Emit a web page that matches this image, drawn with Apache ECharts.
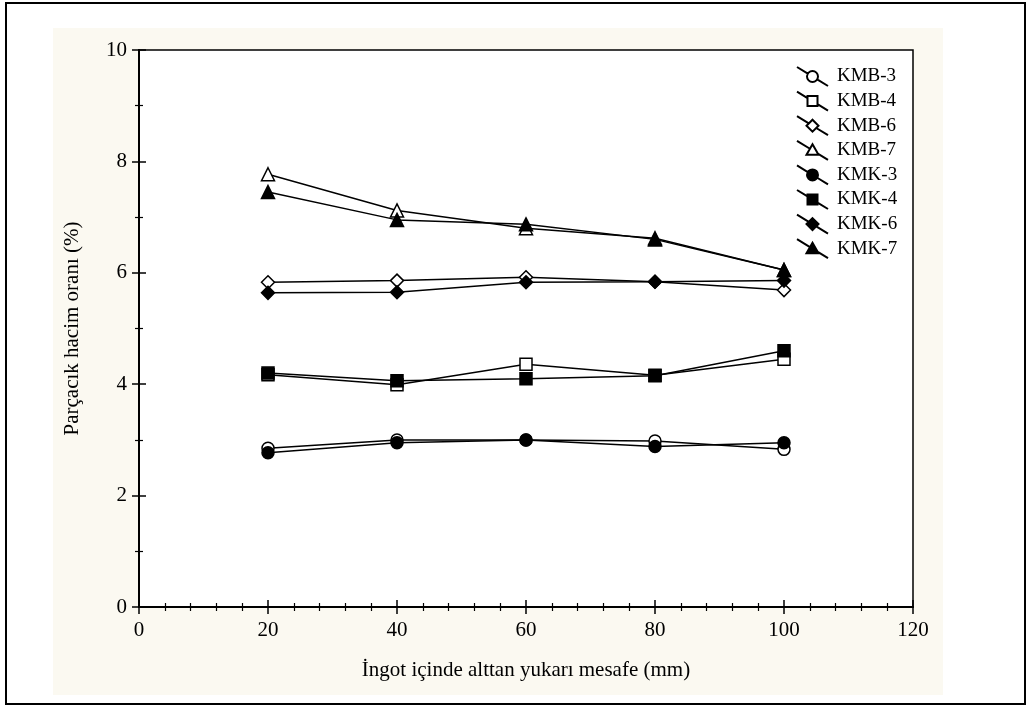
<!DOCTYPE html>
<html>
<head>
<meta charset="utf-8">
<script src="https://cdn.jsdelivr.net/npm/echarts@6/dist/echarts.min.js"></script>
<style>html,body{margin:0;padding:0;background:#fff}#c{width:1032px;height:706px}</style>
</head>
<body>
<div id="c"></div>
<script>
const distances = [20, 40, 60, 80, 100];
const xTicks = [0, 20, 40, 60, 80, 100, 120];
const yTicks = [0, 2, 4, 6, 8, 10];
const seriesNames = ['KMB-3','KMB-4','KMB-6','KMB-7','KMK-3','KMK-4','KMK-6','KMK-7'];
const KMB3 = [2.85, 3.00, 3.00, 2.98, 2.83];
const KMB4 = [4.17, 3.99, 4.36, 4.16, 4.45];
const KMB6 = [5.83, 5.86, 5.92, 5.84, 5.69];
const KMB7 = [7.77, 7.12, 6.80, 6.62, 6.05];
const KMK3 = [2.77, 2.95, 3.00, 2.88, 2.95];
const KMK4 = [4.20, 4.06, 4.10, 4.15, 4.60];
const KMK6 = [5.64, 5.65, 5.83, 5.84, 5.86];
const KMK7 = [7.45, 6.95, 6.87, 6.60, 6.05];
const values = [KMB3, KMB4, KMB6, KMB7, KMK3, KMK4, KMK6, KMK7];

const FONT = '"Liberation Serif", "DejaVu Serif", serif';
const symbols = ['circle','rect','diamond','triangle'];
const legendIcons = [
  'path://M0,0 L10.81,6.63 M20.19,12.37 L31,19 M21,9.5 A5.5,5.5 0 1,1 10,9.5 A5.5,5.5 0 1,1 21,9.5 Z',
  'path://M0,0 L10.5,6.44 M20.5,12.56 L31,19 M10.5,4.5 L20.5,4.5 L20.5,14.5 L10.5,14.5 Z',
  'path://M0,0 L11.78,7.22 M19.22,11.78 L31,19 M15.5,3.5 L21.5,9.5 L15.5,15.5 L9.5,9.5 Z',
  'path://M0,0 L12.96,7.94 M20.78,12.74 L31,19 M15.5,3.5 L21.5,14 L9.5,14 Z'
];
const symSizes = [12, 12, 13, 13];

const series = seriesNames.map((name, i) => {
  const open = i < 4;
  const k = i % 4;
  return {
    name: name,
    type: 'line',
    xAxisIndex: 0, yAxisIndex: 0,
    data: distances.map((d, j) => [d, values[i][j]]),
    symbol: symbols[k],
    symbolSize: symSizes[k],
    showAllSymbol: true,
    lineStyle: { color: '#000', width: 1.5 },
    itemStyle: { color: open ? '#fff' : '#000', borderColor: '#000', borderWidth: 1.5 },
    emphasis: { disabled: true },
    z: open ? 3 : 4
  };
});

const chart = echarts.init(document.getElementById('c'), null, { renderer: 'canvas' });
chart.setOption({
  animation: false,
  backgroundColor: '#ffffff',
  graphic: [
    { type: 'rect', shape: { x: 6, y: 3, width: 1019, height: 701 }, style: { fill: '#fff', stroke: '#000', lineWidth: 2 }, z: -10, silent: true },
    { type: 'rect', shape: { x: 53, y: 28, width: 890, height: 667 }, style: { fill: '#FBF9F1' }, z: -9, silent: true }
  ],
  grid: { left: 139, top: 50, width: 774, height: 557, show: true, backgroundColor: '#fff', borderColor: '#000', borderWidth: 1.5 },
  legend: {
    orient: 'vertical',
    left: 791, top: 61,
    itemWidth: 31, itemHeight: 19, itemGap: 3.6,
    data: seriesNames.map((n, i) => ({ name: n, icon: legendIcons[i % 4] })),
    textStyle: { fontFamily: FONT, fontSize: 19, color: '#000', padding: [0, 0, 0, 4] },
    selectedMode: false
  },
  xAxis: [{
    type: 'value', min: 0, max: 120, interval: 20,
    name: 'İngot içinde alttan yukarı mesafe (mm)', nameLocation: 'middle', nameGap: 53,
    nameTextStyle: { fontFamily: FONT, fontSize: 21, color: '#000' },
    axisLine: { show: true, lineStyle: { color: '#000', width: 2 } },
    axisTick: { show: true, inside: true, length: 7, lineStyle: { color: '#000', width: 1.5 } },
    minorTick: { show: true, splitNumber: 5, length: 4, lineStyle: { color: '#000', width: 1.2 } },
    axisLabel: { fontFamily: FONT, fontSize: 21, color: '#000', margin: 13, formatter: v => xTicks.includes(v) ? String(v) : '' },
    splitLine: { show: false }
  }, {
    type: 'value', position: 'top', min: 0, max: 120, interval: 20,
    axisLine: { show: true, lineStyle: { color: '#000', width: 1.5 } },
    axisTick: { show: true, inside: true, length: 7, lineStyle: { color: '#000', width: 1.5 } },
    minorTick: { show: true, splitNumber: 5, length: 4, lineStyle: { color: '#000', width: 1.2 } },
    axisLabel: { show: false }, splitLine: { show: false }
  }],
  yAxis: [{
    type: 'value', min: 0, max: 10, interval: 2,
    name: 'Parçacık hacim oranı (%)', nameLocation: 'middle', nameGap: 56,
    nameTextStyle: { fontFamily: FONT, fontSize: 21, color: '#000' },
    axisLine: { show: true, lineStyle: { color: '#000', width: 2 } },
    axisTick: { show: true, inside: true, length: 7, lineStyle: { color: '#000', width: 1.5 } },
    minorTick: { show: true, splitNumber: 2, length: 4, lineStyle: { color: '#000', width: 1.2 } },
    axisLabel: { fontFamily: FONT, fontSize: 21, color: '#000', margin: 12, formatter: v => yTicks.includes(v) ? String(v) : '' },
    splitLine: { show: false }
  }, {
    type: 'value', position: 'right', min: 0, max: 10, interval: 2,
    axisLine: { show: true, lineStyle: { color: '#000', width: 2 } },
    axisTick: { show: true, inside: true, length: 7, lineStyle: { color: '#000', width: 1.5 } },
    minorTick: { show: true, splitNumber: 2, length: 4, lineStyle: { color: '#000', width: 1.2 } },
    axisLabel: { show: false }, splitLine: { show: false }
  }],
  series: series
});
</script>
</body>
</html>
